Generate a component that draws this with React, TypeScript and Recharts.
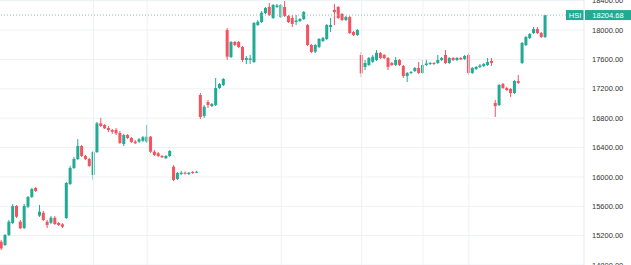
import React from 'react';
import { ComposedChart, Bar, XAxis, YAxis, CartesianGrid, ReferenceLine } from 'recharts';

const symbol = 'HSI';
const lastPrice = 18204.68;
const yTicks = [14800, 15200, 15600, 16000, 16400, 16800, 17200, 17600, 18000, 18400];
const gridIndices = [24, 38, 73, 94, 110, 122];

const opens = [
  15117, 15072, 15209, 15372, 15604, 15390, 15304, 15594, 15726, 15849,
  15472, 15512, 15390, 15376, 15444, 15372, 15354, 15440, 15903, 16121,
  16244, 16421, 16285, 16244, 16026, 16339,
  16730, 16707, 16666, 16639, 16639, 16598, 16448, 16571, 16530, 16480,
  16480, 16493, 16480, 16548, 16343, 16322, 16285, 16254, 16285, 16139,
  15972, 16040, 16057, 16040, 16067, 16063,
  17116, 16830, 17020, 16966, 16979, 17211, 17252, 18001, 17633, 17838,
  17838, 17770, 17593, 17593, 17565, 18069, 18110, 18233, 18315, 18165,
  18315, 18178, 18315, 18192, 18165, 18110,
  18124, 18151, 18069, 17797, 17706, 17770, 17851, 17879, 18042, 18274,
  18315, 18219, 18138, 18178, 17974, 17933,
  17661, 17497, 17525, 17569, 17593, 17688, 17661, 17620, 17552, 17525,
  17593, 17511, 17375, 17416, 17443, 17484, 17416, 17525, 17538, 17552,
  17552, 17593, 17661, 17552, 17620, 17593, 17620, 17606, 17661, 17416,
  17470, 17497, 17511, 17525, 17579,
  17007, 16979, 17266, 17211, 17198, 17143, 17307, 17552, 17797, 17892, 17960, 18015, 17960, 17906,
];

const highs = [
  15140, 15222, 15413, 15631, 15617, 15413, 15631, 15740, 15849, 15862,
  15617, 15536, 15413, 15467, 15467, 15386, 15372, 15931, 16149, 16271,
  16516, 16435, 16298, 16258, 16353, 16748,
  16803, 16721, 16694, 16653, 16666, 16626, 16585, 16585, 16544, 16503,
  16530, 16557, 16707, 16557, 16367, 16339, 16298, 16298, 16367, 16162,
  16067, 16081, 16074, 16067, 16081, 16081,
  17143, 16979, 17048, 17007, 17347, 17279, 17347, 18029, 17851, 17851,
  17851, 17783, 17647, 17661, 18110, 18138, 18260, 18315, 18369, 18356,
  18356, 18356, 18396, 18206, 18206, 18206,
  18165, 18260, 18083, 17811, 17811, 17892, 17906, 18083, 18165, 18356,
  18328, 18233, 18192, 18192, 17988, 18015,
  17702, 17593, 17633, 17661, 17729, 17702, 17674, 17633, 17565, 17633,
  17606, 17525, 17429, 17443, 17497, 17565, 17593, 17593, 17565, 17565,
  17661, 17633, 17729, 17633, 17633, 17633, 17633, 17661, 17688, 17497,
  17511, 17538, 17552, 17620, 17620,
  17048, 17266, 17279, 17225, 17211, 17320, 17388, 17838, 17920, 17960, 18042, 18042, 17974, 18205,
];

const lows = [
  15004, 15059, 15195, 15358, 15440, 15290, 15290, 15576, 15713, 15794,
  15454, 15399, 15304, 15358, 15345, 15331, 15304, 15427, 15890, 16108,
  16230, 16271, 16230, 16135, 15958, 16326,
  16680, 16653, 16612, 16585, 16571, 16448, 16421, 16516, 16462, 16448,
  16462, 16476, 16462, 16326, 16285, 16271, 16258, 16244, 16271, 15944,
  15958, 16026, 16033, 16026, 16040, 16053,
  16789, 16803, 16939, 16952, 16966, 17198, 17238, 17593, 17620, 17783,
  17756, 17565, 17538, 17538, 17552, 18056, 18097, 18219, 18192, 18151,
  18301, 18165, 18178, 18097, 18042, 18069,
  18110, 18138, 17783, 17688, 17688, 17756, 17838, 17865, 17974, 18069,
  18151, 18124, 18124, 17947, 17920, 17920,
  17361, 17456, 17511, 17552, 17579, 17606, 17606, 17456, 17511, 17511,
  17511, 17347, 17293, 17402, 17429, 17402, 17402, 17511, 17525, 17525,
  17538, 17579, 17538, 17538, 17579, 17579, 17593, 17593, 17388, 17402,
  17456, 17484, 17497, 17511, 17511,
  16816, 16966, 17198, 17170, 17089, 17129, 17266, 17538, 17783, 17879, 17947, 17947, 17892, 17892,
];

const closes = [
  15027, 15209, 15390, 15604, 15458, 15300, 15604, 15726, 15835, 15808,
  15526, 15413, 15345, 15444, 15358, 15345, 15322, 15917, 16121, 16244,
  16421, 16285, 16244, 16149, 16339, 16730,
  16694, 16662, 16639, 16616, 16594, 16462, 16571, 16530, 16476, 16458,
  16512, 16540, 16548, 16343, 16298, 16285, 16267, 16285, 16353, 15958,
  16053, 16057, 16049, 16057, 16053, 16071,
  16816, 16956, 16979, 16993, 17211, 17266, 17334, 17638, 17838, 17797,
  17770, 17593, 17620, 17613, 18097, 18114, 18237, 18301, 18206, 18342,
  18335, 18342, 18192, 18110, 18083, 18131,
  18151, 18247, 17797, 17702, 17797, 17879, 17892, 18069, 18069, 18247,
  18165, 18138, 18178, 17960, 17933, 18001,
  17411, 17552, 17620, 17638, 17692, 17620, 17620, 17497, 17525, 17593,
  17525, 17375, 17416, 17429, 17484, 17416, 17525, 17545, 17552, 17538,
  17593, 17620, 17552, 17620, 17593, 17620, 17600, 17647, 17416, 17484,
  17497, 17518, 17538, 17565, 17552,
  16966, 17252, 17211, 17184, 17143, 17307, 17279, 17824, 17906, 17947, 18015, 17960, 17906, 18204.68,
];

const data = opens.map((o, i) => ({
  i,
  o,
  h: highs[i],
  l: lows[i],
  c: closes[i],
  range: [lows[i], highs[i]],
}));

const UP = '#22ab94';
const DOWN = '#f7525f';

function Candle(props: any) {
  const { x, y, width, height, payload } = props;
  if (!payload) return null;
  const { o, h, l, c } = payload;
  const top = Math.min(y, y + height);
  const bottom = Math.max(y, y + height);
  const span = h - l || 1;
  const py = (v: number) => top + ((h - v) / span) * (bottom - top);
  const color = c >= o ? UP : DOWN;
  const bTop = py(Math.max(o, c));
  const bBot = py(Math.min(o, c));
  const cx = x + width / 2;
  return (
    <g>
      <line x1={cx} x2={cx} y1={top} y2={bottom} stroke={color} strokeWidth={1} />
      <rect x={x} y={bTop} width={width} height={Math.max(1, bBot - bTop)} fill={color} />
    </g>
  );
}

function PriceLabel(props: any) {
  const vb = props.viewBox || {};
  const right = (vb.x || 0) + (vb.width || 0);
  const yy = vb.y || 0;
  return (
    <g>
      <rect x={right - 18} y={yy - 5} width={18} height={10} fill={UP} />
      <text x={right - 9} y={yy} fill="#ffffff" fontSize={7.5} textAnchor="middle" dominantBaseline="central" fontFamily="Liberation Sans, Arial, sans-serif">
        {symbol}
      </text>
      <rect x={right + 1} y={yy - 5} width={46} height={10} fill={UP} />
      <text x={right + 24} y={yy} fill="#ffffff" fontSize={7.5} textAnchor="middle" dominantBaseline="central" fontFamily="Liberation Sans, Arial, sans-serif">
        {lastPrice.toFixed(2)}
      </text>
    </g>
  );
}

export default function App() {
  return (
    <div style={{ position: 'absolute', left: 0, top: 0, background: '#ffffff' }}>
      <ComposedChart width={631} height={265} data={data} margin={{ top: 0, right: 0, bottom: 0, left: 0 }}>
        <CartesianGrid vertical={false} stroke="#eef1f5" />
        <XAxis dataKey="i" type="number" domain={[-0.418, 152.06]} hide allowDataOverflow />
        <YAxis
          orientation="right"
          width={47}
          domain={[14800, 18410]}
          ticks={yTicks}
          allowDataOverflow
          interval={0}
          tickLine={false}
          axisLine={{ stroke: '#e6e9ee' }}
          tickSize={6}
          tickMargin={2}
          tickFormatter={(v: number) => v.toFixed(2)}
          tick={{ fontSize: 7.5, fill: '#333333', fontFamily: 'Liberation Sans, Arial, sans-serif' }}
        />
        {gridIndices.map((g) => (
          <ReferenceLine key={g} x={g} stroke="#eef1f5" />
        ))}
        <ReferenceLine y={lastPrice} stroke="#8fbdb6" strokeDasharray="1 2" label={<PriceLabel />} />
        <Bar dataKey="range" barSize={3} shape={<Candle />} isAnimationActive={false} />
      </ComposedChart>
    </div>
  );
}
